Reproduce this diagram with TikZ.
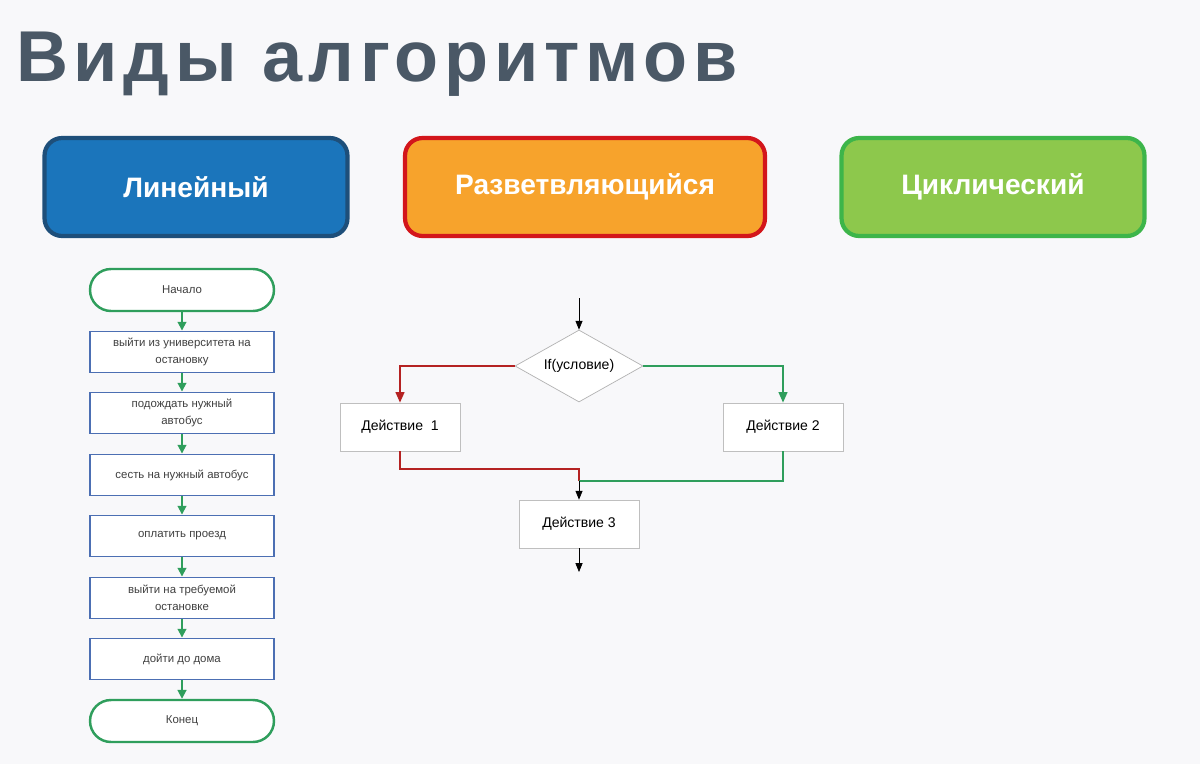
\documentclass[tikz,border=0pt]{standalone}
\usepackage{fontspec}
\setmainfont{Liberation Sans}
\usetikzlibrary{shapes.geometric,arrows.meta,positioning}
\definecolor{bg}{HTML}{F8F8FA}
\definecolor{titlegray}{HTML}{4A5866}
\definecolor{linfill}{HTML}{1B75BB}
\definecolor{linedge}{HTML}{1E4F7A}
\definecolor{brfill}{HTML}{F7A32C}
\definecolor{bredge}{HTML}{D3161B}
\definecolor{cycfill}{HTML}{8DC84C}
\definecolor{cycedge}{HTML}{3DB54A}
\definecolor{flowblue}{HTML}{4C6FB3}
\definecolor{flowgreen}{HTML}{2F9E5C}
\definecolor{branchred}{HTML}{B52222}
\tikzset{
  header/.style={rounded corners=10pt, line width=2.4pt, minimum width=6.06cm, minimum height=1.96cm,
    text=white, font=\fontsize{16}{20}\selectfont\bfseries},
  stepbox/.style={draw=flowblue, line width=1.1pt, fill=white, minimum width=3.68cm, minimum height=0.82cm,
    align=center, inner xsep=1pt, font=\fontsize{6.5}{9.5}\selectfont, text=black!75},
  terminal/.style={draw=flowgreen, line width=1.4pt, fill=white, rounded corners=0.42cm,
    minimum width=3.68cm, minimum height=0.84cm, font=\fontsize{6.5}{8}\selectfont, text=black!75},
  action/.style={draw=black!25, fill=white, minimum width=2.4cm, minimum height=0.96cm,
    font=\fontsize{8}{10}\selectfont},
  garrow/.style={flowgreen, line width=1pt, -{Triangle[length=5pt,width=5pt]}},
  barrow/.style={black, line width=0.4pt, -{Triangle[length=5pt,width=4pt]}}
}
\begin{document}
\begin{tikzpicture}[x=0.02cm, y=-0.02cm]
\fill[bg] (0,0) rectangle (1200,764);
\useasboundingbox (0,0) rectangle (1200,764);

% title
\node[anchor=west, text=titlegray, font=\fontsize{41}{46}\selectfont\bfseries\addfontfeatures{LetterSpace=8}] (title) at (10,64) {Виды алгоритмов};

% headers
\node[header, fill=linfill, draw=linedge] (linear) at (196,187) {Линейный};
\node[header, fill=brfill, draw=bredge, minimum width=7.2cm] (branch) at (585,187) {Разветвляющийся};
\node[header, fill=cycfill, draw=cycedge] (cyclic) at (993,187) {Циклический};

% linear algorithm
\node[terminal] (start) at (182,290) {Начало};
\node[stepbox] (s1) at (182,352) {выйти из университета на\\остановку};
\node[stepbox] (s2) at (182,413) {подождать нужный\\автобус};
\node[stepbox] (s3) at (182,475) {сесть на нужный автобус};
\node[stepbox] (s4) at (182,536) {оплатить проезд};
\node[stepbox] (s5) at (182,598) {выйти на требуемой\\остановке};
\node[stepbox] (s6) at (182,659) {дойти до дома};
\node[terminal] (stop) at (182,721) {Конец};
\draw[garrow] (start) -- (s1);
\draw[garrow] (s1) -- (s2);
\draw[garrow] (s2) -- (s3);
\draw[garrow] (s3) -- (s4);
\draw[garrow] (s4) -- (s5);
\draw[garrow] (s5) -- (s6);
\draw[garrow] (s6) -- (stop);

% branching algorithm
\coordinate (in) at (579,298);
\node[diamond, draw=black!30, fill=white, aspect=1.8, minimum width=2.56cm, minimum height=1.44cm, inner sep=0pt,
  font=\fontsize{8}{10}\selectfont] (cond) at (579,366) {If(условие)};
\node[action] (act1) at (400,427) {Действие \ 1};
\node[action] (act2) at (783,427) {Действие 2};
\node[action] (act3) at (579,524) {Действие 3};
\coordinate (out) at (579,572);
\coordinate (join) at (579,481);
\draw[barrow] (in) -- (cond.north);
\draw[branchred, line width=1pt, -{Triangle[length=6pt,width=5pt]}] (cond.west) -| (act1.north);
\draw[flowgreen, line width=1pt, -{Triangle[length=6pt,width=5pt]}] (cond.east) -| (act2.north);
\draw[branchred, line width=1pt] (act1.south) |- (579,469) -- (join);
\draw[flowgreen, line width=1pt] (act2.south) |- (join);
\draw[barrow] (join) -- (act3.north);
\draw[barrow] (act3.south) -- (out);
\end{tikzpicture}
\end{document}
